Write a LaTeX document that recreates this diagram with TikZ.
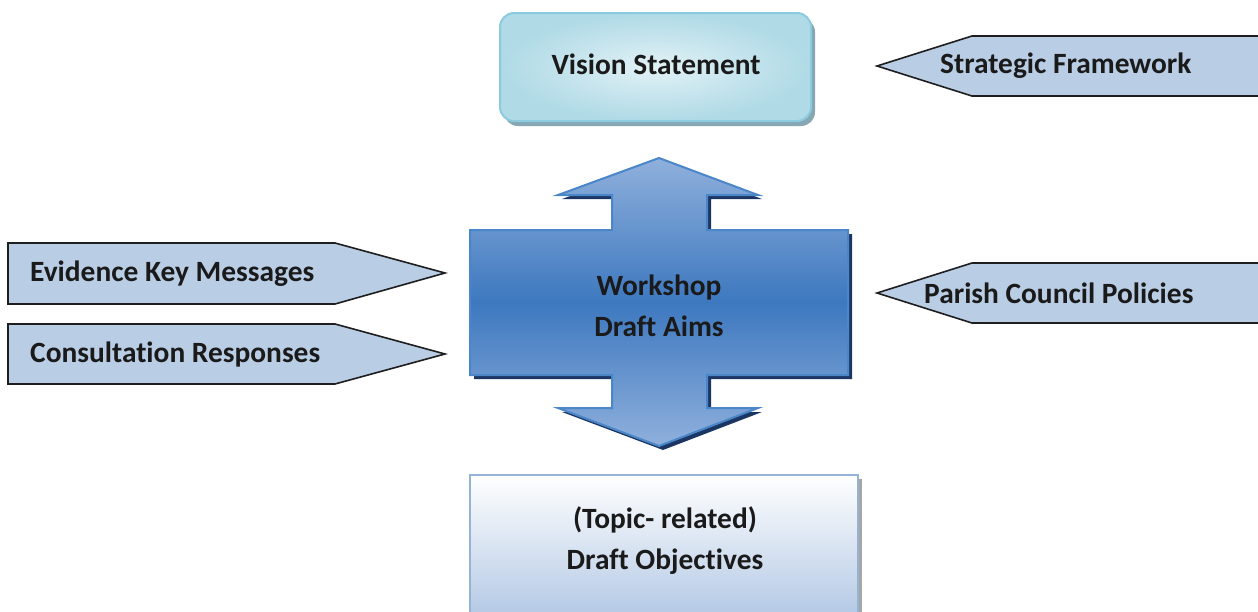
\documentclass[tikz,border=0pt]{standalone}
\usepackage{fontspec}
\setmainfont{Carlito}[Ligatures=NoCommon]
\usepackage{xcolor}
\usepackage{tikz}
\usetikzlibrary{calc}
\definecolor{inputfill}{HTML}{B9CDE5}
\definecolor{inputline}{HTML}{1E1E1E}
\definecolor{textgrey}{HTML}{1A1A1A}
\definecolor{aimsline}{HTML}{4A86C8}
\definecolor{aimsshadow}{HTML}{1C3664}
\definecolor{aimslight}{HTML}{8FB0DC}
\definecolor{aimsdark}{HTML}{3D78BF}
\definecolor{visionline}{HTML}{8CCBDF}
\definecolor{visionin}{HTML}{E2F1F6}
\definecolor{visionout}{HTML}{AFDAE6}
\definecolor{visionshadow}{HTML}{86A7B3}
\definecolor{objline}{HTML}{95B3D7}
\definecolor{objfill}{HTML}{B4C9E5}

\begin{document}
\begin{tikzpicture}[x=1pt,y=-1pt,
  txt/.style={font=\fontsize{29.4}{41}\selectfont\bfseries,text=textgrey,inner sep=0pt,align=center},
  inarrow/.style={fill=inputfill,draw=inputline,line width=1.6pt,line join=miter}]
\useasboundingbox (0,0) rectangle (1258,611);

% vision statement
\fill[visionshadow,rounded corners=14pt] (504,18) rectangle (815,126);
\shade[inner color=visionin,outer color=visionout,draw=visionline,line width=2pt,rounded corners=14pt]
  (500,13) rectangle (811,121);
\node[txt] (vision) at (656,64) {Vision Statement};

% inputs from the right
\draw[inarrow] (1262,36) -- (972,36) -- (877,66) -- (972,96) -- (1262,96);
\node[txt,anchor=west] (strategic) at (940,66) {Strategic Framework};
\draw[inarrow] (1262,263) -- (972,263) -- (877,293) -- (972,323) -- (1262,323);
\node[txt,anchor=west] (parish) at (924,293) {Parish Council Policies};

% inputs from the left
\draw[inarrow] (8,243) -- (335,243) -- (445,273) -- (335,304) -- (8,304) -- cycle;
\node[txt,anchor=west] (evidence) at (30,274) {Evidence Key Messages};
\draw[inarrow] (8,324) -- (335,324) -- (445,354) -- (335,384) -- (8,384) -- cycle;
\node[txt,anchor=west] (consult) at (30,354) {Consultation Responses};

% workshop double arrow
\fill[aimsshadow,shift={(4,4)}] (659,158) -- (758,195) -- (707,195) -- (707,230) -- (848,230)
  -- (848,375) -- (707,375) -- (707,408) -- (758,408) -- (659,446) -- (558,408) -- (612,408)
  -- (612,375) -- (470,375) -- (470,230) -- (612,230) -- (612,195) -- (558,195) -- cycle;
\shade[top color=aimslight,bottom color=aimslight,middle color=aimsdark,draw=aimsline,line width=2pt]
  (659,158) -- (758,195) -- (707,195) -- (707,230) -- (848,230)
  -- (848,375) -- (707,375) -- (707,408) -- (758,408) -- (659,446) -- (558,408) -- (612,408)
  -- (612,375) -- (470,375) -- (470,230) -- (612,230) -- (612,195) -- (558,195) -- cycle;
\node[txt] (workshop) at (659,306) {Workshop\\Draft Aims};

% draft objectives
\fill[black!35] (473,479) rectangle (862,615);
\shade[top color=white,bottom color=objfill,draw=objline,line width=2pt] (470,475) rectangle (858,615);
\node[txt] (objectives) at (665,541) {(Topic- related)\\Draft Objectives};
\end{tikzpicture}
\end{document}
